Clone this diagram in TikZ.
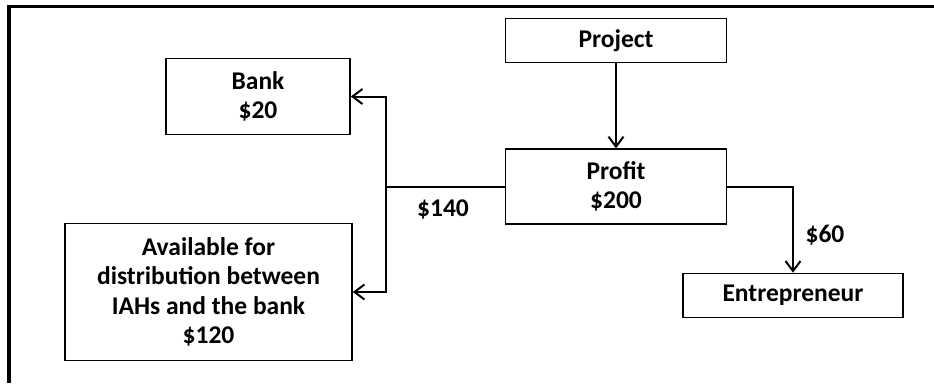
\documentclass[tikz,border=0pt]{standalone}
\usepackage{fontspec}
\setmainfont{Carlito}
\usepackage{tikz}
\usetikzlibrary{arrows.meta,positioning}
\tikzset{
	>={Straight Barb[length=10pt,width=15pt,line width=2pt]},
}

\begin{document}
\begin{tikzpicture}
			[x=1pt, y=-1pt, font=\fontsize{25.5}{29.5}\selectfont\bfseries,
				% STYLES
				% The box style is used for each party
				box/.style={rectangle, draw, line width=1.6pt, inner sep=2pt,
						align=center},
				% The amount style is used for the flows
				amount/.style={inner sep=0pt},
				% The flow style is used for the connectors
				flow/.style={line width=2pt}]

			\useasboundingbox (0,0) rectangle (934,383);

			% Frame
			\draw[line width=3.3pt] (934,6.5) -- (9,6.5) -- (9,383);

			% Draw boxes
			\node [box, minimum width=221pt, minimum height=44pt] (project)
			at (616,40.5) {Project};
			\node [box, minimum width=221pt, minimum height=75pt,
				below=85pt of project] (profit) {Profit\\ \$200};
			\node [box, minimum width=184pt, minimum height=76pt] (bank)
			at (258,96.5) {Bank\\ \$20};
			\node [box, minimum width=287pt, minimum height=137pt] (avail)
			at (208.5,292) {Available for\\ distribution between\\ IAHs and the
				bank\\ \$120};
			\node [box, minimum width=220pt, minimum height=44pt] (entre)
			at (793,295.5) {Entrepreneur};

			% Split point
			\coordinate [left=119pt of profit.west] (split);

			% Amounts
			\node [amount] (m140) at (443,209) {\$140};
			\node [amount] (m60) at (825,235) {\$60};

			% Connectors
			\draw[flow,->] (project) -- (profit);
			\draw[flow] (profit.west) -- (split);
			\draw[flow,->] (split) |- (bank.east);
			\draw[flow,->] (split) |- (avail.east);
			\draw[flow,->] (profit.east) -| (entre.north);

		\end{tikzpicture}
\end{document}
